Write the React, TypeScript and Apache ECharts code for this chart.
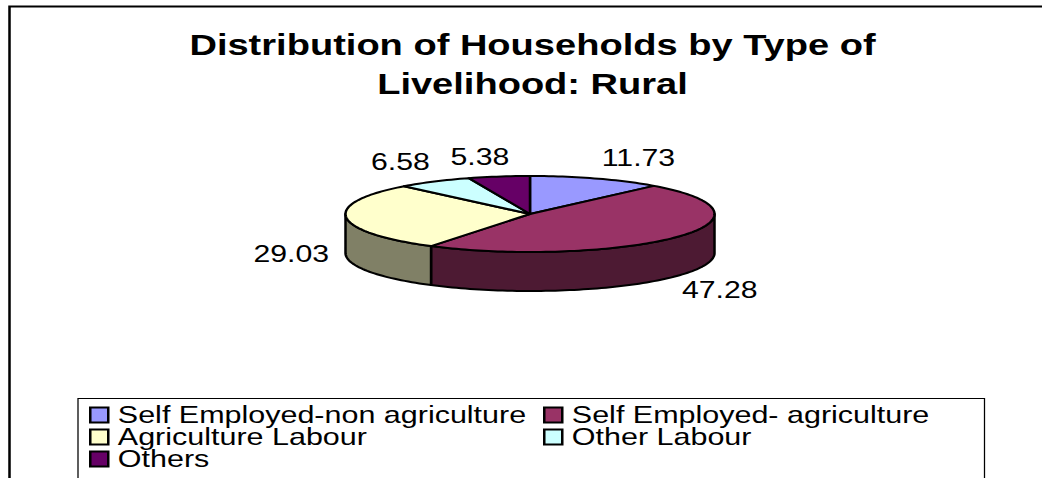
import React, { useEffect, useRef } from "react";
import * as echarts from "echarts";

const categories = [
  "Self Employed-non agriculture",
  "Self Employed- agriculture",
  "Agriculture Labour",
  "Other Labour",
  "Others",
];
const values = [11.73, 47.28, 29.03, 6.58, 5.38];
const titleLines = ["Distribution of Households by Type of", "Livelihood: Rural"];

const topColors = ["#9999FF", "#993366", "#FFFFCC", "#CCFFFF", "#660066"];
const sideColors = ["#4D4D80", "#4D1A33", "#808066", "#668080", "#330033"];
// label offset from the rim point at the slice's middle angle (page px)
const labelOffsets = [
  [42, -21],
  [43, 53],
  [-55, 36],
  [-34, -20],
  [-19, -20],
];

// The reference picture is stretched horizontally: the chart is drawn narrow and widened by CSS.
const CHART_W = 827;
const H = 478;
const SX = 1042 / CHART_W;
const px = (x: number) => x / SX;

const CX = px(530);
const CY = 214;
const RX = px(184.5);
const RY = 38;
const DEPTH = 39;
const FONT = "'Liberation Sans', Arial, sans-serif";

const total = values.reduce((a, b) => a + b, 0);
const starts: number[] = [];
values.reduce((acc, v, i) => {
  starts[i] = acc;
  return acc + (v / total) * 360;
}, 0);

const pt = (deg: number, cy: number) => {
  const r = (deg * Math.PI) / 180;
  return [CX + RX * Math.sin(r), cy - RY * Math.cos(r)];
};
const arc = (a0: number, a1: number, cy: number) => {
  const n = Math.max(2, Math.ceil(Math.abs(a1 - a0) / 1.5));
  const out: number[][] = [];
  for (let i = 0; i <= n; i++) out.push(pt(a0 + ((a1 - a0) * i) / n, cy));
  return out;
};

const lineStyle = { stroke: "#000", lineWidth: 2, lineJoin: "round" };

const makeSeries = (name: string, i: number) => ({
  type: "custom",
  name,
  coordinateSystem: "none",
  silent: true,
  itemStyle: { color: topColors[i] },
  data: [[values[i]]],
  renderItem: (_params: any, api: any) => {
    const sweep = (api.value(0) / total) * 360;
    const a0 = starts[i];
    const a1 = a0 + sweep;
    const children: any[] = [];
    const s = Math.max(a0, 90);
    const e = Math.min(a1, 270);
    if (e > s) {
      children.push({
        type: "polygon",
        shape: { points: [...arc(s, e, CY), ...arc(e, s, CY + DEPTH)] },
        style: { fill: sideColors[i], ...lineStyle },
      });
    }
    children.push({
      type: "polygon",
      shape: { points: [[CX, CY], ...arc(a0, a1, CY)] },
      style: { fill: topColors[i], ...lineStyle },
    });
    const rim = pt((a0 + a1) / 2, CY);
    children.push({
      type: "text",
      style: {
        text: api.value(0).toFixed(2),
        x: rim[0] + px(labelOffsets[i][0]),
        y: rim[1] + labelOffsets[i][1],
        align: "center",
        verticalAlign: "middle",
        fontSize: 24,
        fontFamily: FONT,
        fill: "#000",
      },
    });
    return { type: "group", children };
  },
});

const legendBase = {
  orient: "vertical",
  selectedMode: false,
  icon: "rect",
  itemWidth: px(18),
  itemHeight: 15,
  itemGap: -2,
  padding: 0,
  itemStyle: { borderColor: "#000", borderWidth: 2 },
  textStyle: {
    fontSize: 24.2,
    fontFamily: FONT,
    color: "#000",
    lineHeight: 15,
    padding: [0, 0, 0, 2.6],
  },
};

export default function App() {
  const ref = useRef<HTMLDivElement>(null);
  useEffect(() => {
    document.body.style.margin = "0";
    document.body.style.overflow = "hidden";
    const chart = echarts.init(ref.current!, null, { renderer: "svg" });
    chart.setOption({
      animation: false,
      backgroundColor: "#fff",
      title: {
        text: titleLines.join("\n"),
        left: px(532.5),
        top: 25,
        textAlign: "center",
        padding: 0,
        textStyle: {
          fontSize: 30.2,
          fontWeight: "bold",
          fontFamily: FONT,
          color: "#000",
          lineHeight: 39,
        },
      },
      legend: [
        { ...legendBase, left: px(89), top: 403, data: [categories[0], categories[2], categories[4]] },
        { ...legendBase, left: px(543), top: 403, data: [categories[1], categories[3]] },
      ],
      graphic: [
        {
          type: "polyline",
          silent: true,
          shape: { points: [[px(9.5), H], [px(9.5), 6.5], [CHART_W, 6.5]] },
          style: { stroke: "#000", lineWidth: 2, fill: "none" },
        },
        {
          type: "polyline",
          silent: true,
          shape: { points: [[px(78), H], [px(78), 398.5], [px(984.5), 398.5], [px(984.5), H]] },
          style: { stroke: "#000", lineWidth: 1, fill: "none" },
        },
      ],
      series: categories.map(makeSeries),
    });
    return () => chart.dispose();
  }, []);
  return (
    <div
      ref={ref}
      style={{
        position: "absolute",
        left: 0,
        top: 0,
        width: CHART_W,
        height: H,
        transform: `scaleX(${SX})`,
        transformOrigin: "0 0",
      }}
    />
  );
}
